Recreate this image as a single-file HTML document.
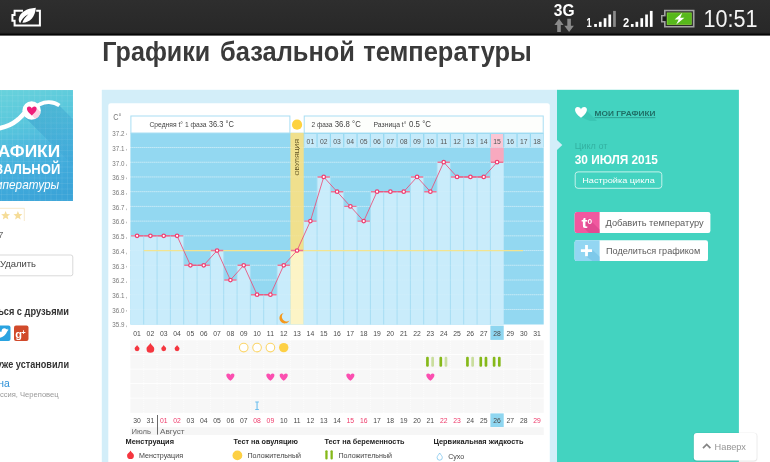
<!DOCTYPE html>
<html lang="ru"><head><meta charset="utf-8"><title>Графики базальной температуры</title>
<style>
html,body{margin:0;padding:0;background:#fff;}
body{width:770px;height:462px;overflow:hidden;position:relative;font-family:"Liberation Sans",sans-serif;}
svg{position:absolute;left:0;top:0;display:block}
text{font-family:"Liberation Sans",sans-serif;}
</style></head><body>
<svg width="770" height="462" viewBox="0 0 770 462">
<defs>
<linearGradient id="sb" x1="0" y1="0" x2="0" y2="1"><stop offset="0" stop-color="#2e2e2e"/><stop offset="0.9" stop-color="#282828"/><stop offset="1" stop-color="#1a1a1a"/></linearGradient>
<linearGradient id="ic" x1="0.35" y1="0" x2="0.65" y2="1"><stop offset="0" stop-color="#68d2dc"/><stop offset="0.3" stop-color="#5ac8dc"/><stop offset="0.55" stop-color="#4bb7de"/><stop offset="0.8" stop-color="#40aadb"/><stop offset="1" stop-color="#3ba4d8"/></linearGradient>
<linearGradient id="sh" gradientUnits="userSpaceOnUse" x1="30" y1="108" x2="73" y2="151"><stop offset="0" stop-color="#2c8fc6" stop-opacity="0.42"/><stop offset="1" stop-color="#2c8fc6" stop-opacity="0.12"/></linearGradient>
</defs>

<rect x="0" y="0" width="770" height="35.4" fill="url(#sb)"/>
<rect x="0" y="33.7" width="770" height="1.7" fill="#060606"/>
<g fill="none" stroke="#fff" stroke-width="2"><path d="M23 10.8 H14.6 V15 H12.4 V20.8 H14.6 V25.6 H39.9 V10.8 H36.2"/></g>
<path d="M35.8 7.8 C26.5 8.4 19.6 12.6 18.8 18.6 C18.5 20.6 19 22.4 20.2 23.2 C21.2 19.6 24 16.4 28.4 14.2 C25.2 17 23 20 22.4 22.8 C30.6 22.6 35.2 16.6 35.8 7.8 Z" fill="#fff"/>
<text x="553.8" y="15.7" font-size="15.6" font-weight="bold" fill="#fff" textLength="20.8" lengthAdjust="spacingAndGlyphs">3G</text>
<path d="M559 18.8 L563.6 25 H560.8 V32 H557.2 V25 H554.4 Z" fill="#8a8a8a"/>
<path d="M569.1 32 L573.9 25.8 H570.9 V18.8 H567.3 V25.8 H564.3 Z" fill="#8a8a8a"/>
<text x="586.6" y="26.9" font-size="13" font-weight="bold" fill="#fff" textLength="5.2" lengthAdjust="spacingAndGlyphs">1</text>
<rect x="594.2" y="24.0" width="2.7" height="2.9" fill="#fff"/>
<rect x="598.9" y="21.8" width="2.7" height="5.1" fill="#fff"/>
<rect x="603.7" y="18.2" width="2.7" height="8.7" fill="#fff"/>
<rect x="608.4" y="14.5" width="2.7" height="12.4" fill="#fff"/>
<rect x="613.1" y="10.9" width="2.7" height="16" fill="#8a8a8a"/>
<text x="623" y="26.9" font-size="13" font-weight="bold" fill="#fff" textLength="6.2" lengthAdjust="spacingAndGlyphs">2</text>
<rect x="630.9" y="24.0" width="2.7" height="2.9" fill="#fff"/>
<rect x="635.5" y="21.8" width="2.7" height="5.1" fill="#fff"/>
<rect x="640.4" y="18.2" width="2.7" height="8.7" fill="#fff"/>
<rect x="645.2" y="14.5" width="2.7" height="12.4" fill="#fff"/>
<rect x="649.9" y="10.9" width="2.7" height="16" fill="#fff"/>
<path d="M664 9.7 H694.5 V27.6 H664 V22.4 H661 V15 H664 Z" fill="#a3a3a3"/>
<rect x="665.6" y="11.3" width="27.3" height="14.7" fill="#2a2a2a"/>
<rect x="662.5" y="16.4" width="4" height="4.6" fill="#1a1a1a"/>
<rect x="666.8" y="12.5" width="24.9" height="12.3" fill="#8ada3a"/>
<rect x="667.5" y="13.2" width="23.5" height="10.9" fill="#57b81c"/>
<path d="M682.3 12.8 L674.6 19.4 H678.7 L676.2 24.6 L684.4 17.7 H680.2 Z" fill="#fff"/>
<text x="703.6" y="26.8" font-size="23.3" fill="#f4f4f4" textLength="54" lengthAdjust="spacingAndGlyphs">10:51</text>
<text x="102.3" y="61.4" font-size="27" font-weight="bold" fill="#3a3a3a" textLength="108" lengthAdjust="spacingAndGlyphs">Графики</text>
<text x="220" y="61.4" font-size="27" font-weight="bold" fill="#3a3a3a" textLength="135" lengthAdjust="spacingAndGlyphs">базальной</text>
<text x="363.2" y="61.4" font-size="27" font-weight="bold" fill="#3a3a3a" textLength="168.6" lengthAdjust="spacingAndGlyphs">температуры</text>
<rect x="-37" y="90" width="110" height="111" fill="url(#ic)"/>
<path d="M-37.0 90 V201 M-37 90.0 H73 M-31.5 90 V201 M-37 95.5 H73 M-26.0 90 V201 M-37 101.0 H73 M-20.5 90 V201 M-37 106.5 H73 M-15.0 90 V201 M-37 112.0 H73 M-9.5 90 V201 M-37 117.5 H73 M-4.0 90 V201 M-37 123.0 H73 M1.5 90 V201 M-37 128.5 H73 M7.0 90 V201 M-37 134.0 H73 M12.5 90 V201 M-37 139.5 H73 M18.0 90 V201 M-37 145.0 H73 M23.5 90 V201 M-37 150.5 H73 M29.0 90 V201 M-37 156.0 H73 M34.5 90 V201 M-37 161.5 H73 M40.0 90 V201 M-37 167.0 H73 M45.5 90 V201 M-37 172.5 H73 M51.0 90 V201 M-37 178.0 H73 M56.5 90 V201 M-37 183.5 H73 M62.0 90 V201 M-37 189.0 H73 M67.5 90 V201 M-37 194.5 H73 M73.0 90 V201 M-37 200.0 H73" stroke="#fff" stroke-opacity="0.1" stroke-width="0.7" fill="none"/>
<path d="M24.9 117.2 L73 165.3 V119.2 L59.6 105.8 C57 103.8 53.5 102.4 49 102.2 C42 102 36 106 31.6 110.5 Z" fill="url(#sh)"/>
<path d="M-3 128.6 C5 127.5 12 124.5 17.8 119.7 C20 118 22 115.8 24.5 113" stroke="#fff" stroke-width="4.7" fill="none" stroke-linecap="round"/>
<path d="M31.6 110.5 C36 106 42 102 49 102.2 C53.5 102.4 57 103.8 59.4 105.6" stroke="#fff" stroke-width="3.7" fill="none" stroke-linecap="butt"/>
<circle cx="31.6" cy="110.5" r="9.2" fill="#fff"/>
<clipPath id="cc"><circle cx="31.6" cy="110.5" r="9.2"/></clipPath>
<path d="M36.6 108 L47 118.4 L40 125 L31.8 115 Z" fill="#fbd3e2" clip-path="url(#cc)"/>
<path d="M31.8 115.392 C25.456 110.756 26.188000000000002 106.608 29.116 106.608 C30.702 106.608 31.556 107.706 31.8 108.56 C32.044000000000004 107.706 32.898 106.608 34.484 106.608 C37.412 106.608 38.144 110.756 31.8 115.392 Z" fill="#ee1f7a"/>
<text x="-22.2" y="157.1" font-size="17.2" font-weight="bold" fill="#fff" textLength="82.4" lengthAdjust="spacingAndGlyphs">ГРАФИКИ</text>
<text x="-23.3" y="173.8" font-size="15" font-weight="bold" fill="#fff" textLength="83.6" lengthAdjust="spacingAndGlyphs">БАЗАЛЬНОЙ</text>
<text x="-21.6" y="188.6" font-size="13.4" font-style="italic" fill="#fff" textLength="80.8" lengthAdjust="spacingAndGlyphs">температуры</text>
<path d="M0 208.3 H24.3 V221" stroke="#f5e6c6" stroke-width="0.9" fill="none"/>
<polygon points="5.60,211.00 6.84,213.99 10.07,214.25 7.61,216.35 8.36,219.50 5.60,217.81 2.84,219.50 3.59,216.35 1.13,214.25 4.36,213.99" fill="#f5dc98"/>
<polygon points="17.90,211.00 19.14,213.99 22.37,214.25 19.91,216.35 20.66,219.50 17.90,217.81 15.14,219.50 15.89,216.35 13.43,214.25 16.66,213.99" fill="#f5dc98"/>
<text x="-7.4" y="238" font-size="9.8" fill="#6a6a6a">17</text>
<rect x="-10" y="255" width="82.8" height="20.8" rx="2" fill="#fff" stroke="#d9d9d9" stroke-width="1"/>
<text x="0" y="266.8" font-size="9.8" fill="#444" textLength="36" lengthAdjust="spacingAndGlyphs">Удалить</text>
<text x="-41" y="315.4" font-size="10.5" font-weight="bold" fill="#333" textLength="110" lengthAdjust="spacingAndGlyphs">Поделиться с друзьями</text>
<rect x="-6" y="325.5" width="16.5" height="15.5" rx="2" fill="#2aa3e0"/>
<path d="M8.6 329.6 c-0.5 0.25 -1.1 0.4 -1.6 0.45 c0.6 -0.35 1 -0.9 1.2 -1.5 c-0.55 0.3 -1.15 0.55 -1.8 0.7 c-0.5 -0.55 -1.25 -0.9 -2.05 -0.9 c-1.85 0 -3.1 1.7 -2.7 3.4 c-2.3 -0.1 -4.4 -1.2 -5.8 -2.9 v9 c4 1 9 -1 11.6 -6.9 c0.5 -0.35 0.9 -0.8 1.2 -1.35 z" fill="#fff"/>
<rect x="14" y="325.5" width="14.5" height="15.5" rx="2" fill="#d14a2b"/>
<text x="15.2" y="337.6" font-size="11" font-weight="bold" fill="#fff" font-family="&quot;Liberation Serif&quot;,serif">g</text>
<text x="21.3" y="334.5" font-size="7.5" font-weight="bold" fill="#fff">+</text>
<text x="-17.5" y="367.5" font-size="10.5" font-weight="bold" fill="#333" textLength="86.5" lengthAdjust="spacingAndGlyphs">Их уже установили</text>
<text x="-20.6" y="386.8" font-size="10" fill="#2b8fd6" textLength="30.4" lengthAdjust="spacingAndGlyphs">Ирина</text>
<text x="-9" y="396.6" font-size="7.6" fill="#999" textLength="67.6" lengthAdjust="spacingAndGlyphs">Россия, Череповец</text>
<rect x="101.8" y="89.8" width="455.5" height="380" fill="#d3eef9"/>
<rect x="108.3" y="103.3" width="441.5" height="370" rx="2.5" fill="#fff"/>
<rect x="130.4" y="132.8" width="413.3" height="191.7" fill="#93d8f1"/>
<path d="M130.4 147.52 H543.7 M130.4 162.24 H543.7 M130.4 176.96 H543.7 M130.4 191.68 H543.7 M130.4 206.40 H543.7 M130.4 221.12 H543.7 M130.4 235.84 H543.7 M130.4 250.56 H543.7 M130.4 265.28 H543.7 M130.4 280.00 H543.7 M130.4 294.72 H543.7 M130.4 309.44 H543.7" stroke="#fff" stroke-opacity="0.8" stroke-width="0.8" stroke-dasharray="1 1" fill="none"/>
<rect x="130.40" y="235.84" width="13.33" height="88.66" fill="#c9ecfb"/>
<rect x="143.73" y="235.84" width="13.33" height="88.66" fill="#c9ecfb"/>
<rect x="157.07" y="235.84" width="13.33" height="88.66" fill="#c9ecfb"/>
<rect x="170.40" y="235.84" width="13.33" height="88.66" fill="#c9ecfb"/>
<rect x="183.73" y="265.28" width="13.33" height="59.22" fill="#c9ecfb"/>
<rect x="197.06" y="265.28" width="13.33" height="59.22" fill="#c9ecfb"/>
<rect x="210.40" y="250.56" width="13.33" height="73.94" fill="#c9ecfb"/>
<rect x="223.73" y="280.00" width="13.33" height="44.50" fill="#c9ecfb"/>
<rect x="237.06" y="265.28" width="13.33" height="59.22" fill="#c9ecfb"/>
<rect x="250.40" y="294.72" width="13.33" height="29.78" fill="#c9ecfb"/>
<rect x="263.73" y="294.72" width="13.33" height="29.78" fill="#c9ecfb"/>
<rect x="277.06" y="265.28" width="13.33" height="59.22" fill="#c9ecfb"/>
<rect x="290.40" y="132.8" width="13.33" height="117.76" fill="#f0e08d"/>
<rect x="290.40" y="250.56" width="13.33" height="73.94" fill="#fcf4c6"/>
<rect x="303.73" y="221.12" width="13.33" height="103.38" fill="#c9ecfb"/>
<rect x="317.06" y="176.96" width="13.33" height="147.54" fill="#c9ecfb"/>
<rect x="330.39" y="191.68" width="13.33" height="132.82" fill="#c9ecfb"/>
<rect x="343.73" y="206.40" width="13.33" height="118.10" fill="#c9ecfb"/>
<rect x="357.06" y="221.12" width="13.33" height="103.38" fill="#c9ecfb"/>
<rect x="370.39" y="191.68" width="13.33" height="132.82" fill="#c9ecfb"/>
<rect x="383.73" y="191.68" width="13.33" height="132.82" fill="#c9ecfb"/>
<rect x="397.06" y="191.68" width="13.33" height="132.82" fill="#c9ecfb"/>
<rect x="410.39" y="176.96" width="13.33" height="147.54" fill="#c9ecfb"/>
<rect x="423.73" y="191.68" width="13.33" height="132.82" fill="#c9ecfb"/>
<rect x="437.06" y="162.24" width="13.33" height="162.26" fill="#c9ecfb"/>
<rect x="450.39" y="176.96" width="13.33" height="147.54" fill="#c9ecfb"/>
<rect x="463.73" y="176.96" width="13.33" height="147.54" fill="#c9ecfb"/>
<rect x="477.06" y="176.96" width="13.33" height="147.54" fill="#c9ecfb"/>
<rect x="490.39" y="162.24" width="13.33" height="162.26" fill="#c9ecfb"/>
<path d="M143.73 235.84 V324.5 M157.07 235.84 V324.5 M170.40 235.84 V324.5 M183.73 235.84 V324.5 M197.06 265.28 V324.5 M210.40 250.56 V324.5 M223.73 250.56 V324.5 M237.06 265.28 V324.5 M250.40 265.28 V324.5 M263.73 294.72 V324.5 M277.06 265.28 V324.5 M317.06 176.96 V324.5 M330.39 176.96 V324.5 M343.73 191.68 V324.5 M357.06 206.40 V324.5 M370.39 191.68 V324.5 M383.73 191.68 V324.5 M397.06 191.68 V324.5 M410.39 176.96 V324.5 M423.73 176.96 V324.5 M437.06 162.24 V324.5 M450.39 162.24 V324.5 M463.73 176.96 V324.5 M477.06 176.96 V324.5 M490.39 162.24 V324.5" stroke="#a6ddf3" stroke-width="0.9" fill="none"/>
<path d="M130.4 147.52 H543.7 M130.4 162.24 H543.7 M130.4 176.96 H543.7 M130.4 191.68 H543.7 M130.4 206.40 H543.7 M130.4 221.12 H543.7 M130.4 235.84 H543.7 M130.4 250.56 H543.7 M130.4 265.28 H543.7 M130.4 280.00 H543.7 M130.4 294.72 H543.7 M130.4 309.44 H543.7" stroke="#fff" stroke-opacity="0.22" stroke-width="0.8" stroke-dasharray="1 1" fill="none"/>
<rect x="490.39" y="147.6" width="13.33" height="14.64" fill="#f8a9bf"/>
<rect x="130.9" y="116" width="159.00" height="17" fill="#fff" stroke="#a9def3" stroke-width="1"/>
<rect x="304.23" y="116" width="238.99" height="17" fill="#fdfefc" stroke="#a9def3" stroke-width="1"/>
<circle cx="297.06" cy="124.7" r="5.1" fill="#fdd23f"/>
<text x="149.5" y="126.9" font-size="6.7" fill="#444" textLength="57" lengthAdjust="spacingAndGlyphs">Средняя t° 1 фаза</text>
<text x="208.8" y="127.3" font-size="8.5" fill="#444" textLength="25" lengthAdjust="spacingAndGlyphs">36.3 °C</text>
<text x="311.5" y="126.9" font-size="6.7" fill="#444" textLength="21" lengthAdjust="spacingAndGlyphs">2 фаза</text>
<text x="334.8" y="127.3" font-size="8.5" fill="#444" textLength="26" lengthAdjust="spacingAndGlyphs">36.8 °C</text>
<text x="373.5" y="126.9" font-size="6.7" fill="#444" textLength="33" lengthAdjust="spacingAndGlyphs">Разница t°</text>
<text x="409" y="127.3" font-size="8.5" fill="#444" textLength="22" lengthAdjust="spacingAndGlyphs">0.5 °C</text>
<rect x="304.33" y="134" width="12.13" height="13.6" fill="#c5eafa"/>
<text x="310.40" y="143.6" font-size="6.8" fill="#555" text-anchor="middle">01</text>
<rect x="317.66" y="134" width="12.13" height="13.6" fill="#c5eafa"/>
<text x="323.73" y="143.6" font-size="6.8" fill="#555" text-anchor="middle">02</text>
<rect x="331.00" y="134" width="12.13" height="13.6" fill="#c5eafa"/>
<text x="337.06" y="143.6" font-size="6.8" fill="#555" text-anchor="middle">03</text>
<rect x="344.33" y="134" width="12.13" height="13.6" fill="#c5eafa"/>
<text x="350.39" y="143.6" font-size="6.8" fill="#555" text-anchor="middle">04</text>
<rect x="357.66" y="134" width="12.13" height="13.6" fill="#c5eafa"/>
<text x="363.73" y="143.6" font-size="6.8" fill="#555" text-anchor="middle">05</text>
<rect x="370.99" y="134" width="12.13" height="13.6" fill="#c5eafa"/>
<text x="377.06" y="143.6" font-size="6.8" fill="#555" text-anchor="middle">06</text>
<rect x="384.33" y="134" width="12.13" height="13.6" fill="#c5eafa"/>
<text x="390.39" y="143.6" font-size="6.8" fill="#555" text-anchor="middle">07</text>
<rect x="397.66" y="134" width="12.13" height="13.6" fill="#c5eafa"/>
<text x="403.73" y="143.6" font-size="6.8" fill="#555" text-anchor="middle">08</text>
<rect x="410.99" y="134" width="12.13" height="13.6" fill="#c5eafa"/>
<text x="417.06" y="143.6" font-size="6.8" fill="#555" text-anchor="middle">09</text>
<rect x="424.33" y="134" width="12.13" height="13.6" fill="#c5eafa"/>
<text x="430.39" y="143.6" font-size="6.8" fill="#555" text-anchor="middle">10</text>
<rect x="437.66" y="134" width="12.13" height="13.6" fill="#c5eafa"/>
<text x="443.73" y="143.6" font-size="6.8" fill="#555" text-anchor="middle">11</text>
<rect x="450.99" y="134" width="12.13" height="13.6" fill="#c5eafa"/>
<text x="457.06" y="143.6" font-size="6.8" fill="#555" text-anchor="middle">12</text>
<rect x="464.33" y="134" width="12.13" height="13.6" fill="#c5eafa"/>
<text x="470.39" y="143.6" font-size="6.8" fill="#555" text-anchor="middle">13</text>
<rect x="477.66" y="134" width="12.13" height="13.6" fill="#c5eafa"/>
<text x="483.72" y="143.6" font-size="6.8" fill="#555" text-anchor="middle">14</text>
<rect x="490.99" y="134" width="12.13" height="13.6" fill="#fbc7d5"/>
<text x="497.06" y="143.6" font-size="6.8" fill="#555" text-anchor="middle">15</text>
<rect x="504.32" y="134" width="12.13" height="13.6" fill="#c5eafa"/>
<text x="510.39" y="143.6" font-size="6.8" fill="#555" text-anchor="middle">16</text>
<rect x="517.66" y="134" width="12.13" height="13.6" fill="#c5eafa"/>
<text x="523.72" y="143.6" font-size="6.8" fill="#555" text-anchor="middle">17</text>
<rect x="530.99" y="134" width="12.13" height="13.6" fill="#c5eafa"/>
<text x="537.06" y="143.6" font-size="6.8" fill="#555" text-anchor="middle">18</text>
<text transform="translate(299.06 175.6) rotate(-90)" font-size="6.2" fill="#5f5120" textLength="36.6" lengthAdjust="spacingAndGlyphs">ОВУЛЯЦИЯ</text>
<path d="M143.73 250.56 H523.06" stroke="#f3e48f" stroke-width="1.2" fill="none"/>
<path d="M283.6 312.9 A5.3 5.3 0 1 0 289.5 320.4 A4.6 4.6 0 0 1 283.6 312.9 Z" fill="#f5981c"/>
<path d="M130.90 235.84 H143.23 M144.23 235.84 H156.57 M157.57 235.84 H169.90 M170.90 235.84 H183.23 M184.23 265.28 H196.56 M197.56 265.28 H209.90 M210.90 250.56 H223.23 M224.23 280.00 H236.56 M237.56 265.28 H249.90 M250.90 294.72 H263.23 M264.23 294.72 H276.56 M277.56 265.28 H289.90 M290.90 250.56 H303.23 M304.23 221.12 H316.56 M317.56 176.96 H329.89 M330.89 191.68 H343.23 M344.23 206.40 H356.56 M357.56 221.12 H369.89 M370.89 191.68 H383.23 M384.23 191.68 H396.56 M397.56 191.68 H409.89 M410.89 176.96 H423.23 M424.23 191.68 H436.56 M437.56 162.24 H449.89 M450.89 176.96 H463.23 M464.23 176.96 H476.56 M477.56 176.96 H489.89 M490.89 162.24 H503.22" stroke="#ee7596" stroke-width="1.4" fill="none"/>
<polyline points="137.07,235.84 150.40,235.84 163.73,235.84 177.07,235.84 190.40,265.28 203.73,265.28 217.06,250.56 230.40,280.00 243.73,265.28 257.06,294.72 270.40,294.72 283.73,265.28 297.06,250.56 310.40,221.12 323.73,176.96 337.06,191.68 350.39,206.40 363.73,221.12 377.06,191.68 390.39,191.68 403.73,191.68 417.06,176.96 430.39,191.68 443.73,162.24 457.06,176.96 470.39,176.96 483.72,176.96 497.06,162.24" stroke="#ea4f7a" stroke-width="0.85" fill="none"/>
<circle cx="137.07" cy="235.84" r="1.75" fill="#fff" stroke="#ee3f72" stroke-width="1.25"/>
<circle cx="150.40" cy="235.84" r="1.75" fill="#fff" stroke="#ee3f72" stroke-width="1.25"/>
<circle cx="163.73" cy="235.84" r="1.75" fill="#fff" stroke="#ee3f72" stroke-width="1.25"/>
<circle cx="177.07" cy="235.84" r="1.75" fill="#fff" stroke="#ee3f72" stroke-width="1.25"/>
<circle cx="190.40" cy="265.28" r="1.75" fill="#fff" stroke="#ee3f72" stroke-width="1.25"/>
<circle cx="203.73" cy="265.28" r="1.75" fill="#fff" stroke="#ee3f72" stroke-width="1.25"/>
<circle cx="217.06" cy="250.56" r="1.75" fill="#fff" stroke="#ee3f72" stroke-width="1.25"/>
<circle cx="230.40" cy="280.00" r="1.75" fill="#fff" stroke="#ee3f72" stroke-width="1.25"/>
<circle cx="243.73" cy="265.28" r="1.75" fill="#fff" stroke="#ee3f72" stroke-width="1.25"/>
<circle cx="257.06" cy="294.72" r="1.75" fill="#fff" stroke="#ee3f72" stroke-width="1.25"/>
<circle cx="270.40" cy="294.72" r="1.75" fill="#fff" stroke="#ee3f72" stroke-width="1.25"/>
<circle cx="283.73" cy="265.28" r="1.75" fill="#fff" stroke="#ee3f72" stroke-width="1.25"/>
<circle cx="297.06" cy="250.56" r="1.75" fill="#fff" stroke="#ee3f72" stroke-width="1.25"/>
<circle cx="310.40" cy="221.12" r="1.75" fill="#fff" stroke="#ee3f72" stroke-width="1.25"/>
<circle cx="323.73" cy="176.96" r="1.75" fill="#fff" stroke="#ee3f72" stroke-width="1.25"/>
<circle cx="337.06" cy="191.68" r="1.75" fill="#fff" stroke="#ee3f72" stroke-width="1.25"/>
<circle cx="350.39" cy="206.40" r="1.75" fill="#fff" stroke="#ee3f72" stroke-width="1.25"/>
<circle cx="363.73" cy="221.12" r="1.75" fill="#fff" stroke="#ee3f72" stroke-width="1.25"/>
<circle cx="377.06" cy="191.68" r="1.75" fill="#fff" stroke="#ee3f72" stroke-width="1.25"/>
<circle cx="390.39" cy="191.68" r="1.75" fill="#fff" stroke="#ee3f72" stroke-width="1.25"/>
<circle cx="403.73" cy="191.68" r="1.75" fill="#fff" stroke="#ee3f72" stroke-width="1.25"/>
<circle cx="417.06" cy="176.96" r="1.75" fill="#fff" stroke="#ee3f72" stroke-width="1.25"/>
<circle cx="430.39" cy="191.68" r="1.75" fill="#fff" stroke="#ee3f72" stroke-width="1.25"/>
<circle cx="443.73" cy="162.24" r="1.75" fill="#fff" stroke="#ee3f72" stroke-width="1.25"/>
<circle cx="457.06" cy="176.96" r="1.75" fill="#fff" stroke="#ee3f72" stroke-width="1.25"/>
<circle cx="470.39" cy="176.96" r="1.75" fill="#fff" stroke="#ee3f72" stroke-width="1.25"/>
<circle cx="483.72" cy="176.96" r="1.75" fill="#fff" stroke="#ee3f72" stroke-width="1.25"/>
<circle cx="497.06" cy="162.24" r="1.75" fill="#fff" stroke="#ee3f72" stroke-width="1.25"/>
<text x="113.2" y="120.4" font-size="9.2" fill="#777" textLength="8.2" lengthAdjust="spacingAndGlyphs">C°</text>
<text x="112.2" y="136.10" font-size="6.5" fill="#787878" textLength="12.2" lengthAdjust="spacingAndGlyphs">37.2</text>
<rect x="126.2" y="133.40" width="0.7" height="1.6" fill="#aaa"/>
<text x="112.2" y="150.82" font-size="6.5" fill="#787878" textLength="12.2" lengthAdjust="spacingAndGlyphs">37.1</text>
<rect x="126.2" y="148.92" width="0.7" height="1.6" fill="#aaa"/>
<text x="112.2" y="165.54" font-size="6.5" fill="#787878" textLength="12.2" lengthAdjust="spacingAndGlyphs">37.0</text>
<rect x="126.2" y="164.44" width="0.7" height="1.6" fill="#aaa"/>
<text x="112.2" y="180.26" font-size="6.5" fill="#787878" textLength="12.2" lengthAdjust="spacingAndGlyphs">36.9</text>
<rect x="126.2" y="177.56" width="0.7" height="1.6" fill="#aaa"/>
<text x="112.2" y="194.98" font-size="6.5" fill="#787878" textLength="12.2" lengthAdjust="spacingAndGlyphs">36.8</text>
<rect x="126.2" y="193.08" width="0.7" height="1.6" fill="#aaa"/>
<text x="112.2" y="209.70" font-size="6.5" fill="#787878" textLength="12.2" lengthAdjust="spacingAndGlyphs">36.7</text>
<rect x="126.2" y="208.60" width="0.7" height="1.6" fill="#aaa"/>
<text x="112.2" y="224.42" font-size="6.5" fill="#787878" textLength="12.2" lengthAdjust="spacingAndGlyphs">36.6</text>
<rect x="126.2" y="221.72" width="0.7" height="1.6" fill="#aaa"/>
<text x="112.2" y="239.14" font-size="6.5" fill="#787878" textLength="12.2" lengthAdjust="spacingAndGlyphs">36.5</text>
<rect x="126.2" y="237.24" width="0.7" height="1.6" fill="#aaa"/>
<text x="112.2" y="253.86" font-size="6.5" fill="#787878" textLength="12.2" lengthAdjust="spacingAndGlyphs">36.4</text>
<rect x="126.2" y="252.76" width="0.7" height="1.6" fill="#aaa"/>
<text x="112.2" y="268.58" font-size="6.5" fill="#787878" textLength="12.2" lengthAdjust="spacingAndGlyphs">36.3</text>
<rect x="126.2" y="265.88" width="0.7" height="1.6" fill="#aaa"/>
<text x="112.2" y="283.30" font-size="6.5" fill="#787878" textLength="12.2" lengthAdjust="spacingAndGlyphs">36.2</text>
<rect x="126.2" y="281.40" width="0.7" height="1.6" fill="#aaa"/>
<text x="112.2" y="298.02" font-size="6.5" fill="#787878" textLength="12.2" lengthAdjust="spacingAndGlyphs">36.1</text>
<rect x="126.2" y="296.92" width="0.7" height="1.6" fill="#aaa"/>
<text x="112.2" y="312.74" font-size="6.5" fill="#787878" textLength="12.2" lengthAdjust="spacingAndGlyphs">36.0</text>
<rect x="126.2" y="310.04" width="0.7" height="1.6" fill="#aaa"/>
<text x="112.2" y="327.46" font-size="6.5" fill="#787878" textLength="12.2" lengthAdjust="spacingAndGlyphs">35.9</text>
<rect x="126.2" y="325.56" width="0.7" height="1.6" fill="#aaa"/>
<rect x="490.39" y="325.6" width="13.33" height="14.3" fill="#8fd6f0"/>
<text x="137.07" y="335.5" font-size="6.8" fill="#4a4a4a" text-anchor="middle">01</text>
<text x="150.40" y="335.5" font-size="6.8" fill="#4a4a4a" text-anchor="middle">02</text>
<text x="163.73" y="335.5" font-size="6.8" fill="#4a4a4a" text-anchor="middle">03</text>
<text x="177.07" y="335.5" font-size="6.8" fill="#4a4a4a" text-anchor="middle">04</text>
<text x="190.40" y="335.5" font-size="6.8" fill="#4a4a4a" text-anchor="middle">05</text>
<text x="203.73" y="335.5" font-size="6.8" fill="#4a4a4a" text-anchor="middle">06</text>
<text x="217.06" y="335.5" font-size="6.8" fill="#4a4a4a" text-anchor="middle">07</text>
<text x="230.40" y="335.5" font-size="6.8" fill="#4a4a4a" text-anchor="middle">08</text>
<text x="243.73" y="335.5" font-size="6.8" fill="#4a4a4a" text-anchor="middle">09</text>
<text x="257.06" y="335.5" font-size="6.8" fill="#4a4a4a" text-anchor="middle">10</text>
<text x="270.40" y="335.5" font-size="6.8" fill="#4a4a4a" text-anchor="middle">11</text>
<text x="283.73" y="335.5" font-size="6.8" fill="#4a4a4a" text-anchor="middle">12</text>
<text x="297.06" y="335.5" font-size="6.8" fill="#4a4a4a" text-anchor="middle">13</text>
<text x="310.40" y="335.5" font-size="6.8" fill="#4a4a4a" text-anchor="middle">14</text>
<text x="323.73" y="335.5" font-size="6.8" fill="#4a4a4a" text-anchor="middle">15</text>
<text x="337.06" y="335.5" font-size="6.8" fill="#4a4a4a" text-anchor="middle">16</text>
<text x="350.39" y="335.5" font-size="6.8" fill="#4a4a4a" text-anchor="middle">17</text>
<text x="363.73" y="335.5" font-size="6.8" fill="#4a4a4a" text-anchor="middle">18</text>
<text x="377.06" y="335.5" font-size="6.8" fill="#4a4a4a" text-anchor="middle">19</text>
<text x="390.39" y="335.5" font-size="6.8" fill="#4a4a4a" text-anchor="middle">20</text>
<text x="403.73" y="335.5" font-size="6.8" fill="#4a4a4a" text-anchor="middle">21</text>
<text x="417.06" y="335.5" font-size="6.8" fill="#4a4a4a" text-anchor="middle">22</text>
<text x="430.39" y="335.5" font-size="6.8" fill="#4a4a4a" text-anchor="middle">23</text>
<text x="443.73" y="335.5" font-size="6.8" fill="#4a4a4a" text-anchor="middle">24</text>
<text x="457.06" y="335.5" font-size="6.8" fill="#4a4a4a" text-anchor="middle">25</text>
<text x="470.39" y="335.5" font-size="6.8" fill="#4a4a4a" text-anchor="middle">26</text>
<text x="483.72" y="335.5" font-size="6.8" fill="#4a4a4a" text-anchor="middle">27</text>
<text x="497.06" y="335.5" font-size="6.8" fill="#4a4a4a" text-anchor="middle">28</text>
<text x="510.39" y="335.5" font-size="6.8" fill="#4a4a4a" text-anchor="middle">29</text>
<text x="523.72" y="335.5" font-size="6.8" fill="#4a4a4a" text-anchor="middle">30</text>
<text x="537.06" y="335.5" font-size="6.8" fill="#4a4a4a" text-anchor="middle">31</text>
<rect x="130.4" y="340.3" width="413.3" height="13.7" fill="#f7f7f7"/>
<rect x="130.4" y="354.8" width="413.3" height="13.9" fill="#f7f7f7"/>
<rect x="130.4" y="369.5" width="413.3" height="13.5" fill="#f7f7f7"/>
<rect x="130.4" y="383.8" width="413.3" height="13.9" fill="#f7f7f7"/>
<rect x="130.4" y="398.5" width="413.3" height="14.3" fill="#f7f7f7"/>
<path d="M143.73 340 V413 M157.07 340 V413 M170.40 340 V413 M183.73 340 V413 M197.06 340 V413 M210.40 340 V413 M223.73 340 V413 M237.06 340 V413 M250.40 340 V413 M263.73 340 V413 M277.06 340 V413 M290.40 340 V413 M303.73 340 V413 M317.06 340 V413 M330.39 340 V413 M343.73 340 V413 M357.06 340 V413 M370.39 340 V413 M383.73 340 V413 M397.06 340 V413 M410.39 340 V413 M423.73 340 V413 M437.06 340 V413 M450.39 340 V413 M463.73 340 V413 M477.06 340 V413 M490.39 340 V413 M503.72 340 V413 M517.06 340 V413 M530.39 340 V413" stroke="#fff" stroke-opacity="0.8" stroke-width="0.9" stroke-dasharray="1 1" fill="none"/>
<path d="M137.07 344.90 C138.17 347.07 139.52 347.01 139.52 348.85 A2.45 2.45 0 0 1 134.62 348.85 C134.62 347.01 135.97 347.07 137.07 344.90 Z" fill="#f5363f"/>
<path d="M150.4 342.95 C152.13 346.28 154.25 346.11 154.25 349.00 A3.85 3.85 0 0 1 146.55 349.00 C146.55 346.11 148.67 346.28 150.4 342.95 Z" fill="#f5363f"/>
<path d="M163.73 344.90 C164.83 347.07 166.18 347.01 166.18 348.85 A2.45 2.45 0 0 1 161.28 348.85 C161.28 347.01 162.63 347.07 163.73 344.90 Z" fill="#f5363f"/>
<path d="M177.07 344.90 C178.17 347.07 179.52 347.01 179.52 348.85 A2.45 2.45 0 0 1 174.62 348.85 C174.62 347.01 175.97 347.07 177.07 344.90 Z" fill="#f5363f"/>
<circle cx="243.73" cy="347.6" r="4.3" fill="#fff" stroke="#fbd66a" stroke-width="1.1"/>
<circle cx="257.06" cy="347.6" r="4.3" fill="#fff" stroke="#fbd66a" stroke-width="1.1"/>
<circle cx="270.40" cy="347.6" r="4.3" fill="#fff" stroke="#fbd66a" stroke-width="1.1"/>
<circle cx="283.73" cy="347.6" r="4.7" fill="#fdd044"/>
<rect x="426.09" y="356.8" width="2.7" height="10" rx="1.2" fill="#86b91a" fill-opacity="1"/>
<rect x="431.29" y="356.8" width="2.7" height="10" rx="1.2" fill="#86b91a" fill-opacity="0.4"/>
<rect x="439.43" y="356.8" width="2.7" height="10" rx="1.2" fill="#86b91a" fill-opacity="1"/>
<rect x="444.63" y="356.8" width="2.7" height="10" rx="1.2" fill="#86b91a" fill-opacity="0.4"/>
<rect x="466.09" y="356.8" width="2.7" height="10" rx="1.2" fill="#86b91a" fill-opacity="1"/>
<rect x="471.29" y="356.8" width="2.7" height="10" rx="1.2" fill="#86b91a" fill-opacity="0.4"/>
<rect x="479.42" y="356.8" width="2.7" height="10" rx="1.2" fill="#86b91a" fill-opacity="1"/>
<rect x="484.62" y="356.8" width="2.7" height="10" rx="1.2" fill="#86b91a" fill-opacity="1"/>
<rect x="492.76" y="356.8" width="2.7" height="10" rx="1.2" fill="#86b91a" fill-opacity="1"/>
<rect x="497.96" y="356.8" width="2.7" height="10" rx="1.2" fill="#86b91a" fill-opacity="1"/>
<path d="M230.4 380.872 C225.096 376.996 225.708 373.52799999999996 228.156 373.52799999999996 C229.482 373.52799999999996 230.196 374.44599999999997 230.4 375.15999999999997 C230.604 374.44599999999997 231.318 373.52799999999996 232.644 373.52799999999996 C235.092 373.52799999999996 235.704 376.996 230.4 380.872 Z" fill="#fb4fb0"/>
<path d="M270.4 380.872 C265.096 376.996 265.70799999999997 373.52799999999996 268.15599999999995 373.52799999999996 C269.48199999999997 373.52799999999996 270.19599999999997 374.44599999999997 270.4 375.15999999999997 C270.604 374.44599999999997 271.318 373.52799999999996 272.644 373.52799999999996 C275.092 373.52799999999996 275.70399999999995 376.996 270.4 380.872 Z" fill="#fb4fb0"/>
<path d="M283.73 380.872 C278.42600000000004 376.996 279.038 373.52799999999996 281.486 373.52799999999996 C282.812 373.52799999999996 283.526 374.44599999999997 283.73 375.15999999999997 C283.934 374.44599999999997 284.648 373.52799999999996 285.97400000000005 373.52799999999996 C288.422 373.52799999999996 289.034 376.996 283.73 380.872 Z" fill="#fb4fb0"/>
<path d="M350.39 380.872 C345.086 376.996 345.698 373.52799999999996 348.14599999999996 373.52799999999996 C349.472 373.52799999999996 350.186 374.44599999999997 350.39 375.15999999999997 C350.594 374.44599999999997 351.308 373.52799999999996 352.634 373.52799999999996 C355.082 373.52799999999996 355.69399999999996 376.996 350.39 380.872 Z" fill="#fb4fb0"/>
<path d="M430.39 380.872 C425.086 376.996 425.698 373.52799999999996 428.14599999999996 373.52799999999996 C429.472 373.52799999999996 430.186 374.44599999999997 430.39 375.15999999999997 C430.594 374.44599999999997 431.308 373.52799999999996 432.634 373.52799999999996 C435.082 373.52799999999996 435.69399999999996 376.996 430.39 380.872 Z" fill="#fb4fb0"/>
<path d="M255.26 402 H258.86 M257.06 402 V409.5 M255.26 409.5 H258.86" stroke="#6ebfee" stroke-width="1.1" fill="none"/>
<rect x="490.39" y="413.4" width="13.33" height="13.6" fill="#8fd6f0"/>
<text x="137.07" y="423.2" font-size="6.8" fill="#4a4a4a" text-anchor="middle">30</text>
<text x="150.40" y="423.2" font-size="6.8" fill="#4a4a4a" text-anchor="middle">31</text>
<text x="163.73" y="423.2" font-size="6.8" fill="#ee3a6a" text-anchor="middle">01</text>
<text x="177.07" y="423.2" font-size="6.8" fill="#ee3a6a" text-anchor="middle">02</text>
<text x="190.40" y="423.2" font-size="6.8" fill="#4a4a4a" text-anchor="middle">03</text>
<text x="203.73" y="423.2" font-size="6.8" fill="#4a4a4a" text-anchor="middle">04</text>
<text x="217.06" y="423.2" font-size="6.8" fill="#4a4a4a" text-anchor="middle">05</text>
<text x="230.40" y="423.2" font-size="6.8" fill="#4a4a4a" text-anchor="middle">06</text>
<text x="243.73" y="423.2" font-size="6.8" fill="#4a4a4a" text-anchor="middle">07</text>
<text x="257.06" y="423.2" font-size="6.8" fill="#ee3a6a" text-anchor="middle">08</text>
<text x="270.40" y="423.2" font-size="6.8" fill="#ee3a6a" text-anchor="middle">09</text>
<text x="283.73" y="423.2" font-size="6.8" fill="#4a4a4a" text-anchor="middle">10</text>
<text x="297.06" y="423.2" font-size="6.8" fill="#4a4a4a" text-anchor="middle">11</text>
<text x="310.40" y="423.2" font-size="6.8" fill="#4a4a4a" text-anchor="middle">12</text>
<text x="323.73" y="423.2" font-size="6.8" fill="#4a4a4a" text-anchor="middle">13</text>
<text x="337.06" y="423.2" font-size="6.8" fill="#4a4a4a" text-anchor="middle">14</text>
<text x="350.39" y="423.2" font-size="6.8" fill="#ee3a6a" text-anchor="middle">15</text>
<text x="363.73" y="423.2" font-size="6.8" fill="#ee3a6a" text-anchor="middle">16</text>
<text x="377.06" y="423.2" font-size="6.8" fill="#4a4a4a" text-anchor="middle">17</text>
<text x="390.39" y="423.2" font-size="6.8" fill="#4a4a4a" text-anchor="middle">18</text>
<text x="403.73" y="423.2" font-size="6.8" fill="#4a4a4a" text-anchor="middle">19</text>
<text x="417.06" y="423.2" font-size="6.8" fill="#4a4a4a" text-anchor="middle">20</text>
<text x="430.39" y="423.2" font-size="6.8" fill="#4a4a4a" text-anchor="middle">21</text>
<text x="443.73" y="423.2" font-size="6.8" fill="#ee3a6a" text-anchor="middle">22</text>
<text x="457.06" y="423.2" font-size="6.8" fill="#ee3a6a" text-anchor="middle">23</text>
<text x="470.39" y="423.2" font-size="6.8" fill="#4a4a4a" text-anchor="middle">24</text>
<text x="483.72" y="423.2" font-size="6.8" fill="#4a4a4a" text-anchor="middle">25</text>
<text x="497.06" y="423.2" font-size="6.8" fill="#4a4a4a" text-anchor="middle">26</text>
<text x="510.39" y="423.2" font-size="6.8" fill="#4a4a4a" text-anchor="middle">27</text>
<text x="523.72" y="423.2" font-size="6.8" fill="#4a4a4a" text-anchor="middle">28</text>
<text x="537.06" y="423.2" font-size="6.8" fill="#ee3a6a" text-anchor="middle">29</text>
<rect x="130.4" y="427.3" width="413.3" height="7.7" fill="#f6f6f6"/>
<rect x="157" y="415" width="1" height="19.6" fill="#6a6a6a"/>
<text x="131.5" y="433.6" font-size="7" fill="#666" textLength="19.5" lengthAdjust="spacingAndGlyphs">Июль</text>
<text x="160" y="433.6" font-size="7" fill="#666" textLength="24.5" lengthAdjust="spacingAndGlyphs">Август</text>
<text x="125.5" y="444.3" font-size="7.4" font-weight="bold" fill="#222" textLength="48.5" lengthAdjust="spacingAndGlyphs">Менструация</text>
<text x="233.5" y="444.3" font-size="7.4" font-weight="bold" fill="#222" textLength="64.5" lengthAdjust="spacingAndGlyphs">Тест на овуляцию</text>
<text x="324.5" y="444.3" font-size="7.4" font-weight="bold" fill="#222" textLength="80" lengthAdjust="spacingAndGlyphs">Тест на беременность</text>
<text x="433.5" y="444.3" font-size="7.4" font-weight="bold" fill="#222" textLength="90" lengthAdjust="spacingAndGlyphs">Цервикальная жидкость</text>
<path d="M130.5 450.50 C132.03 453.36 133.90 453.15 133.90 455.70 A3.40 3.40 0 0 1 127.10 455.70 C127.10 453.15 128.97 453.36 130.5 450.50 Z" fill="#f5363f"/>
<text x="139" y="458.2" font-size="7" fill="#444" textLength="44" lengthAdjust="spacingAndGlyphs">Менструация</text>
<circle cx="237.4" cy="455.4" r="4.9" fill="#fdd044"/>
<text x="247.5" y="458.2" font-size="7" fill="#444" textLength="53.5" lengthAdjust="spacingAndGlyphs">Положительный</text>
<rect x="325.3" y="450.2" width="2.3" height="9.4" rx="1.1" fill="#86b91a"/><rect x="330.5" y="450.2" width="2.3" height="9.4" rx="1.1" fill="#86b91a"/>
<text x="338.5" y="458.2" font-size="7" fill="#444" textLength="53.5" lengthAdjust="spacingAndGlyphs">Положительный</text>
<path d="M439.7 453 C440.7 454.8 442.3 456 442.3 457.6 A2.6 2.6 0 0 1 437.1 457.6 C437.1 456 438.7 454.8 439.7 453 Z" fill="#fff" stroke="#7cc4ec" stroke-width="0.8"/>
<text x="448.2" y="459.3" font-size="7" fill="#444" textLength="16" lengthAdjust="spacingAndGlyphs">Сухо</text>
<rect x="557" y="89.8" width="181.9" height="380" fill="#43d3c0"/>
<path d="M557 140 L562.3 145 L557 150 Z" fill="#d3eef9"/>
<path d="M585.5 109.5 L597 121 H590 L578.5 116 Z" fill="#2db3a2" fill-opacity="0.4"/>
<path d="M581 117.80000000000001 C573.2 112.10000000000001 574.1 107.0 577.7 107.0 C579.65 107.0 580.7 108.35000000000001 581 109.4 C581.3 108.35000000000001 582.35 107.0 584.3 107.0 C587.9 107.0 588.8 112.10000000000001 581 117.80000000000001 Z" fill="#fff"/>
<text x="594.6" y="115.5" font-size="7.3" font-weight="bold" fill="#1f6f66" textLength="60.8" lengthAdjust="spacingAndGlyphs">МОИ ГРАФИКИ</text>
<rect x="594.6" y="117.3" width="60.8" height="0.8" fill="#2a978a"/>
<text x="574.8" y="149" font-size="8.8" fill="#33b1a1" textLength="32.6" lengthAdjust="spacingAndGlyphs">Цикл от</text>
<text x="574.7" y="164.3" font-size="12.8" font-weight="bold" fill="#fff" textLength="83.2" lengthAdjust="spacingAndGlyphs">30 ИЮЛЯ 2015</text>
<rect x="575.2" y="171.9" width="86.6" height="16.4" rx="2.8" fill="none" stroke="#c4f3ec" stroke-width="1"/>
<text x="582.2" y="183.4" font-size="8" fill="#fff" textLength="72.6" lengthAdjust="spacingAndGlyphs">Настройка цикла</text>
<rect x="574.6" y="212.1" width="135.8" height="20.9" rx="2.2" fill="#fff"/>
<path d="M576.8 212.1 H599.6 V233 H576.8 a2.2 2.2 0 0 1 -2.2 -2.2 V214.3 a2.2 2.2 0 0 1 2.2 -2.2 z" fill="#f1589f"/>
<path d="M588 218 L599.6 229.6 V233 H589 L582 226 Z" fill="#d63f86" fill-opacity="0.55"/>
<text x="581.6" y="228" font-size="14.2" font-weight="bold" fill="#fff" textLength="6" lengthAdjust="spacingAndGlyphs">t</text>
<text x="587.6" y="224.1" font-size="8.4" font-weight="bold" fill="#fff" textLength="4.6" lengthAdjust="spacingAndGlyphs">o</text>
<text x="605.6" y="226.3" font-size="8.8" fill="#5a5a5a" textLength="98" lengthAdjust="spacingAndGlyphs">Добавить температуру</text>
<rect x="574.6" y="240.2" width="133.4" height="20.9" rx="2.2" fill="#fff"/>
<path d="M576.8 240.2 H599.6 V261.1 H576.8 a2.2 2.2 0 0 1 -2.2 -2.2 V242.4 a2.2 2.2 0 0 1 2.2 -2.2 z" fill="#93d6f2"/>
<path d="M592 249.2 L599.6 256.8 V261.1 H592.5 L585.2 256 Z" fill="#6fc0e4" fill-opacity="0.6"/>
<path d="M586.5 245 V256.2 M580.9 250.6 H592.1" stroke="#fff" stroke-width="2.8" fill="none"/>
<text x="606" y="254.1" font-size="8.8" fill="#5a5a5a" textLength="94.2" lengthAdjust="spacingAndGlyphs">Поделиться графиком</text>
<rect x="692.8" y="432.4" width="65" height="29.6" rx="4" fill="#000" fill-opacity="0.035"/>
<rect x="693.3" y="432.8" width="64" height="28.6" rx="3.5" fill="#000" fill-opacity="0.05"/>
<rect x="693.8" y="433.1" width="62.8" height="27.5" rx="3" fill="#fff"/>
<path d="M703 448.2 L706.7 444.4 L710.4 448.2" stroke="#858585" stroke-width="1.7" fill="none"/>
<text x="714.6" y="449.8" font-size="8.4" fill="#969696" textLength="31.4" lengthAdjust="spacingAndGlyphs">Наверх</text>
</svg>
</body></html>
